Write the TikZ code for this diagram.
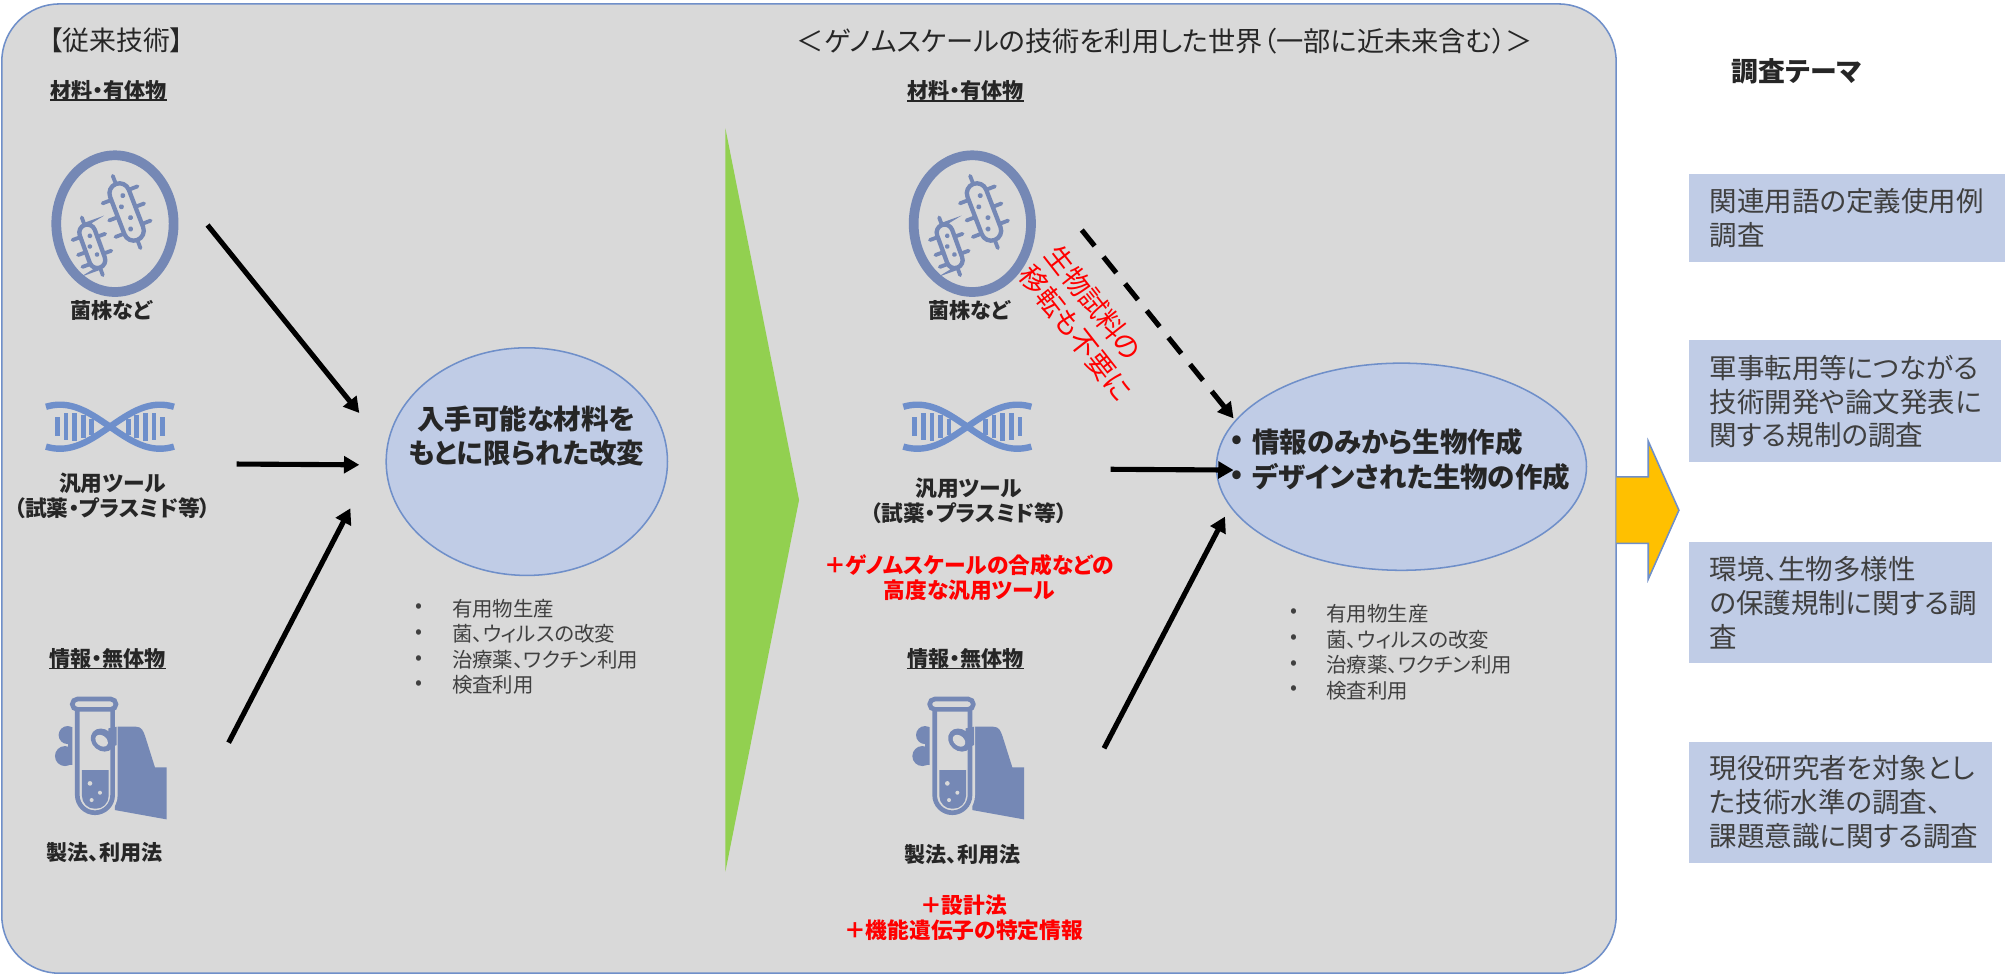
\documentclass[tikz,border=0pt]{standalone}
\usepackage{fontspec}
\setmainfont{Noto Sans CJK JP}[RawFeature={+palt}]
\usetikzlibrary{arrows.meta,shapes.geometric}

\definecolor{panelfill}{HTML}{D9D9D9}
\definecolor{panelline}{HTML}{6F8FC9}
\definecolor{ellfill}{HTML}{C0CCE6}
\definecolor{iconc}{HTML}{7588B5}
\definecolor{dnac}{HTML}{6E8FCB}
\definecolor{greenw}{HTML}{92D050}
\definecolor{gold}{HTML}{FFC000}
\definecolor{labc}{HTML}{262626}
\definecolor{bulc}{HTML}{404040}
\definecolor{boxtc}{HTML}{3F3F3F}
\definecolor{redt}{HTML}{FF0000}

\newcommand\fsz[2]{\fontsize{#1}{#2}\selectfont}

\tikzset{
  % petri-dish icon with two bacilli
  bacteria/.pic={
    \begin{scope}[x=0.2607pt,y=-0.2607pt]
      \draw[iconc, line width=7.6pt] (0,0) ellipse [x radius=176, y radius=205];
      \begin{scope}[shift={(35,-35)}, rotate=-69]
        \draw[iconc, line width=3.4pt, rounded corners=7.8pt] (-90,-30) rectangle (90,30);
        \foreach \sx in {-50,5,58} \draw[iconc, line width=3pt, line cap=round] (\sx,30) -- (\sx,58);
        \foreach \sx in {-60,-5,50} \draw[iconc, line width=3pt, line cap=round] (\sx,-30) -- (\sx,-58);
        \draw[iconc, line width=3pt, line cap=round] (90,0) -- (116,0);
        \draw[iconc, line width=3pt, line cap=round] (-90,0) -- (-116,0);
        \foreach \dx/\dy in {-50/-7,-20/9,20/-5,52/7} \fill[iconc] (\dx,\dy) circle [radius=7.5];
      \end{scope}
      \begin{scope}[shift={(-68,68)}, rotate=-70]
        \draw[iconc, line width=3.4pt, rounded corners=6.3pt] (-68,-24) rectangle (68,24);
        \foreach \sx in {-38,10,48} \draw[iconc, line width=3pt, line cap=round] (\sx,24) -- (\sx,49);
        \foreach \sx in {-22,32} \draw[iconc, line width=3pt, line cap=round] (\sx,-24) -- (\sx,-49);
        \draw[iconc, line width=3pt, line cap=round] (68,0) -- (92,0);
        \draw[iconc, line width=3pt, line cap=round] (-68,0) -- (-92,0);
        \foreach \dx/\dy in {-32/-4,-2/7,28/-5} \fill[iconc] (\dx,\dy) circle [radius=7];
      \end{scope}
    \end{scope}
  },
  % double helix icon
  dna/.pic={
    \begin{scope}[x=0.2607pt,y=-0.2607pt]
      \draw[dnac, line width=5pt, domain=-192:192, samples=60, smooth, variable=\t]
        plot ({\t},{66*sin(0.6*\t)});
      \draw[dnac, line width=5pt, domain=-192:192, samples=60, smooth, variable=\t]
        plot ({\t},{-66*sin(0.6*\t)});
      \foreach \bx/\bh in {-158/29,-132/40,-106/42,-80/35,-55/24,55/24,80/35,106/42,132/40,158/29}
        \fill[dnac] ({\bx-7},{-\bh}) rectangle ({\bx+7},{\bh});
    \end{scope}
  },
  % hand holding a test tube
  tube/.pic={
    \begin{scope}[x=0.2607pt,y=-0.2607pt]
      \fill[iconc] (15,-100) -- (78,-100) .. controls (95,-100) and (100,-88) .. (106,-70)
        -- (135,22) -- (170,22) -- (170,178) -- (15,150) -- cycle;
      \fill[iconc] (-127,-75) circle [radius=27];
      \fill[iconc] (-135,-12) circle [radius=30];
      \fill[iconc] (-127,-100) rectangle (-98,15);
      \draw[panelfill, line width=7.8pt, rounded corners=13.8pt] (-98,-145) -- (-98,158) -- (8,158) -- (8,-145);
      \draw[panelfill, line width=7.8pt, rounded corners=4pt] (-113,-183) rectangle (18,-152);
      \draw[iconc, line width=3.65pt, rounded corners=13.8pt] (-98,-152) -- (-98,158) -- (8,158) -- (8,-152);
      \draw[iconc, line width=3.65pt, rounded corners=4pt] (-113,-183) rectangle (18,-152);
      \fill[iconc] (-84,30) [rounded corners=10pt] -- (-84,146) -- (-4,146) [sharp corners] -- (-4,30) -- cycle;
      \fill[panelfill] (-60,70) circle [radius=7];
      \fill[panelfill] (-30,98) circle [radius=6];
      \fill[panelfill] (-55,120) circle [radius=6];
      \fill[iconc] (-5,-95) -- (20,-100) -- (20,-45) -- (-5,-35) -- cycle;
      \fill[iconc, rotate around={-40:(-22,-60)}] (-22,-60) ellipse [x radius=38, y radius=32];
      \fill[panelfill, rotate around={-40:(-25,-58)}] (-25,-58) ellipse [x radius=21, y radius=15];
    \end{scope}
  },
}

\begin{document}
\begin{tikzpicture}[x=1pt,y=-1pt,
  lbl/.style={font=\fsz{16.5}{20}\bfseries, text=labc, inner sep=0pt},
  redl/.style={font=\fsz{17}{19.6}\bfseries, text=redt, inner sep=0pt, align=center},
  bul/.style={font=\fsz{16}{19}, text=bulc, inner sep=0pt, anchor=west},
  bulletdot/.style={font=\fsz{16}{19}, text=bulc, inner sep=0pt},
  ell/.style={ellipse, draw=panelline, fill=ellfill, line width=1.2pt, inner sep=0pt},
  ellt/.style={font=\fsz{21.5}{26.9}\bfseries, text=labc, inner sep=0pt},
  themebox/.style={fill=ellfill, inner sep=0pt, anchor=north west},
  boxtxt/.style={font=\fsz{21.5}{26.4}, text=boxtc, align=left, anchor=west, inner sep=0pt},
  uline/.style={draw=labc, line width=1.3pt},
  arr/.style={draw=black, line width=4pt, -{Triangle[length=12pt,width=13pt]}},
  darr/.style={arr, dash pattern=on 16pt off 11pt},
]
\fill[white] (0,0) rectangle (1568,762);
\useasboundingbox (0,0) rectangle (1568,762);

% grey panel and transition wedge
\node[draw=panelline, fill=panelfill, line width=1.2pt, rounded corners=45pt,
      minimum width=1262.5pt, minimum height=758pt, inner sep=0pt, anchor=north west] (panel) at (0.8,2.5) {};
\fill[greenw] (567.3,100.4) -- (624.9,391) -- (567.3,681.6) -- cycle;

% titles
\node[font=\fsz{21}{25}, text=labc, inner sep=0pt] (old) at (91,31.3) {【従来技術】};
\node[font=\fsz{21.3}{26}, text=labc, inner sep=0pt] (new) at (911,32.5) {＜ゲノムスケールの技術を利用した世界（一部に近未来含む）＞};

% left column
\node[lbl] (h1) at (84.7,70.4) {材料・有体物};
\draw[uline] (h1.south west) -- (h1.south east);
\pic (bac1) at (89.9,174.9) {bacteria};
\node[lbl] (l1) at (87.3,243) {菌株など};
\pic (dna1) at (86,333.7) {dna};
\node[lbl, align=center, font=\fsz{17}{19.2}\bfseries] (l2) at (88,387.6) {汎用ツール\\（試薬・プラスミド等）};
\node[lbl] (h2) at (84,514.8) {情報・無体物};
\draw[uline] (h2.south west) -- (h2.south east);
\pic (tube1) at (86,594.4) {tube};
\node[lbl] (l3) at (81.7,667) {製法、利用法};

% left outcome
\node[ell, minimum width=220pt, minimum height=178pt] (e1) at (412,361) {};
\node[ellt, align=center] (e1t) at (411.5,341) {入手可能な材料を\\もとに限られた改変};
\coordinate (a1s) at (162.3,176);   \coordinate (a1e) at (281,323);
\coordinate (a2s) at (185,362.9);   \coordinate (a2e) at (281,363.5);
\coordinate (a3s) at (178.8,580.8); \coordinate (a3e) at (274,397.5);
\draw[arr] (a1s) -- (a1e);
\draw[arr] (a2s) -- (a2e);
\draw[arr] (a3s) -- (a3e);
\foreach \i/\yy/\tx in {1/475.7/有用物生産, 2/495.8/菌、ウィルスの改変, 3/516.2/治療薬、ワクチン利用, 4/535.7/検査利用}{
  \node[bulletdot] (lb\i) at (327.5,\yy) {•};
  \node[bul] (lt\i) at (353.3,\yy) {\tx};
}

% right column
\node[lbl] (h3) at (755,71) {材料・有体物};
\draw[uline] (h3.south west) -- (h3.south east);
\pic (bac2) at (760.4,174.9) {bacteria};
\node[lbl] (r1) at (757.7,242.4) {菌株など};
\pic (dna2) at (756.5,333.7) {dna};
\node[lbl, align=center, font=\fsz{17}{19.2}\bfseries] (r2) at (757.8,391.5) {汎用ツール\\（試薬・プラスミド等）};
\node[redl] (r3) at (758,451.6) {＋ゲノムスケールの合成などの\\高度な汎用ツール};
\node[lbl] (h4) at (755,514.8) {情報・無体物};
\draw[uline] (h4.south west) -- (h4.south east);
\pic (tube2) at (756.5,594.4) {tube};
\node[lbl] (r4) at (752.6,668.6) {製法、利用法};
\node[redl] (r5) at (753.6,717.5) {＋設計法\\＋機能遺伝子の特定情報};

% right outcome
\node[ell, minimum width=289.4pt, minimum height=162pt] (e2) at (1096,365) {};
\node[ellt] (e2d1) at (967,345.4) {•};
\node[ellt, anchor=west] (e2a) at (979,345.4) {情報のみから生物作成};
\node[ellt] (e2d2) at (967,372.8) {•};
\node[ellt, anchor=west] (e2b) at (979,372.8) {デザインされた生物の作成};
\coordinate (a4s) at (846,179.9);   \coordinate (a4e) at (964.7,327.2);
\coordinate (a5s) at (868.6,367);   \coordinate (a5e) at (964.7,367.6);
\coordinate (a6s) at (863.4,585.2); \coordinate (a6e) at (958,404);
\draw[darr] (a4s) -- (a4e);
\draw[arr] (a5s) -- (a5e);
\draw[arr] (a6s) -- (a6e);
\node[font=\fsz{21.5}{25.5}, text=redt, rotate=-52, align=left, inner sep=0pt] (note) at (851.5,252.8) {生物試料の\\移転も不要に};
\foreach \i/\yy/\tx in {1/479.7/有用物生産, 2/500/菌、ウィルスの改変, 3/520/治療薬、ワクチン利用, 4/540/検査利用}{
  \node[bulletdot] (rb\i) at (1012,\yy) {•};
  \node[bul] (rt\i) at (1037,\yy) {\tx};
}

% transition arrow
\draw[fill=gold, draw=panelline, line width=1.2pt] (1264,373) -- (1289,373) -- (1289,345) -- (1313,399) -- (1289,453) -- (1289,425) -- (1264,425);

% survey themes
\node[font=\fsz{21}{25}\bfseries, text=labc, inner sep=0pt] (theme) at (1405,56) {調査テーマ};
\node[themebox, minimum width=247pt, minimum height=68.6pt] (t1) at (1321,136) {};
\node[themebox, minimum width=244pt, minimum height=95.1pt] (t2) at (1321,265.9) {};
\node[themebox, minimum width=236.6pt, minimum height=94.6pt] (t3) at (1321,423.6) {};
\node[themebox, minimum width=236.6pt, minimum height=94.6pt] (t4) at (1321,580) {};
\node[boxtxt] (t1x) at (1336.8,170.75) {関連用語の定義使用例\\調査};
\node[boxtxt] (t2x) at (1336.8,314.1) {軍事転用等につながる\\技術開発や論文発表に\\関する規制の調査};
\node[boxtxt] (t3x) at (1336.8,471.2) {環境、生物多様性\\の保護規制に関する調\\査};
\node[boxtxt] (t4x) at (1336.8,627.35) {現役研究者を対象とし\\た技術水準の調査、\\課題意識に関する調査};
\end{tikzpicture}
\end{document}
